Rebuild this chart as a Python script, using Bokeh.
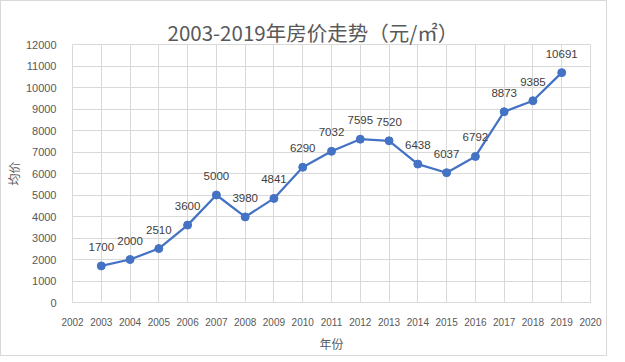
from bokeh.plotting import figure
from bokeh.models import Range1d, FixedTicker, ColumnDataSource, Title, LabelSet
from bokeh.core.properties import value
from bokeh.embed import file_html
from bokeh.resources import INLINE

years = [2003, 2004, 2005, 2006, 2007, 2008, 2009, 2010, 2011, 2012, 2013, 2014, 2015, 2016, 2017, 2018, 2019]
prices = [1700, 2000, 2510, 3600, 5000, 3980, 4841, 6290, 7032, 7595, 7520, 6438, 6037, 6792, 8873, 9385, 10691]
x_ticks = list(range(2002, 2021))
y_ticks = list(range(0, 12001, 1000))
title_text = "2003-2019年房价走势（元/㎡）"
x_label = "年份"
y_label = "均价"

src = ColumnDataSource(dict(x=years, y=prices, lab=[str(v) for v in prices]))

p = figure(width=607, height=356, output_backend="svg", toolbar_location=None,
           x_range=Range1d(2002, 2020), y_range=Range1d(0, 12000),
           min_border_left=62, min_border_right=18, min_border_top=43, min_border_bottom=55)
p.styles = {"border": "1px solid #d9d9d9"}
p.outline_line_color = "#d9d9d9"
p.background_fill_color = "white"
p.border_fill_color = "white"

grid_color = "#d9d9d9"
p.xgrid.ticker = FixedTicker(ticks=x_ticks)
p.ygrid.ticker = FixedTicker(ticks=y_ticks)
p.xgrid.grid_line_color = grid_color
p.ygrid.grid_line_color = grid_color

p.xaxis.ticker = FixedTicker(ticks=x_ticks)
p.yaxis.ticker = FixedTicker(ticks=y_ticks)
for ax in (p.xaxis[0], p.yaxis[0]):
    ax.major_tick_line_color = None
    ax.minor_tick_line_color = None
    ax.major_tick_out = 0
    ax.major_tick_in = 0
    ax.minor_tick_out = 0
    ax.minor_tick_in = 0
    ax.major_label_text_color = "#595959"
    ax.major_label_text_font = "Liberation Sans"
    ax.axis_label_text_font = "Noto Sans CJK SC"
    ax.axis_label_text_font_style = "normal"
    ax.axis_label_text_color = "#595959"
    ax.axis_label_text_font_size = "12px"
p.xaxis.major_label_text_font_size = "10px"
p.yaxis.major_label_text_font_size = "11px"
p.xaxis.axis_line_color = grid_color
p.yaxis.axis_line_color = None
p.xaxis.major_label_standoff = 15
p.yaxis.major_label_standoff = 16
p.xaxis.axis_label = x_label
p.yaxis.axis_label = y_label
p.xaxis.axis_label_standoff = 6
p.yaxis.axis_label_standoff = 1

p.title = None
t = Title(text=title_text, align="left", text_font="Noto Sans CJK SC", text_font_size="20.5px",
          text_font_style="normal", text_color="#595959", offset=95, standoff=-5)
p.add_layout(t, "above")

p.line("x", "y", source=src, line_color="#4472C4", line_width=2.25)
p.scatter("x", "y", source=src, size=8, fill_color="#4472C4", line_color="#4472C4")
labels = LabelSet(x="x", y="y", text="lab", source=src, text_align="center", text_baseline="middle",
                  y_offset=19, text_font=value("Liberation Sans"), text_font_size="11.5px",
                  text_color="#404040")
p.add_layout(labels)

open("out.html", "w").write(file_html(p, INLINE))
